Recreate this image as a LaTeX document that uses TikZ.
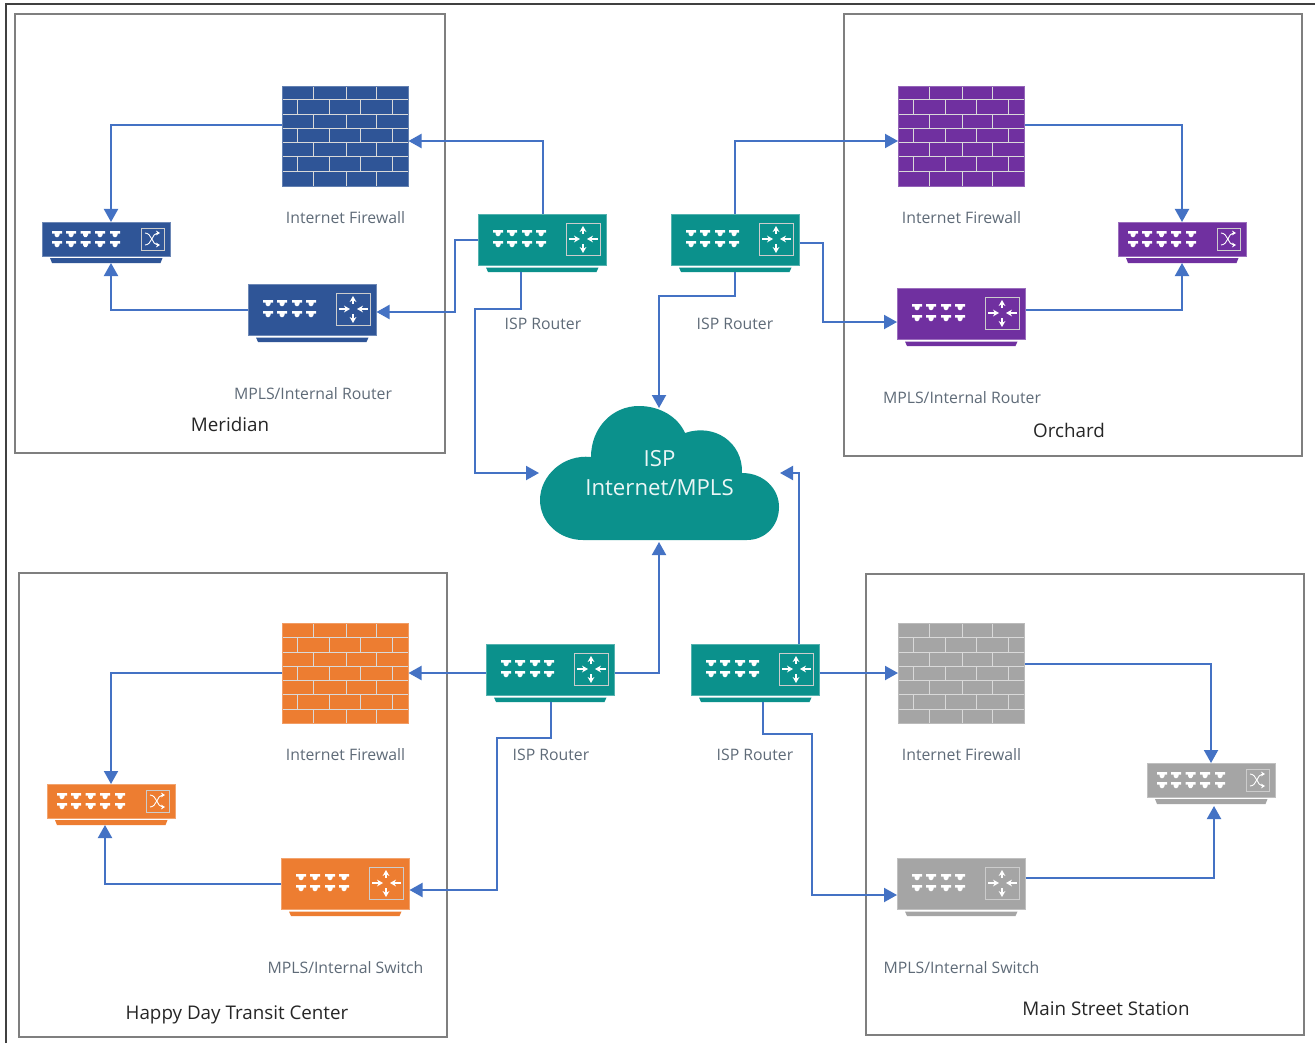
\documentclass[tikz,border=0pt]{standalone}
\usepackage{fontspec}
\setmainfont{Open Sans}
\usetikzlibrary{arrows.meta,calc}
\definecolor{cBlue}{HTML}{2F5597}
\definecolor{cPurple}{HTML}{7030A0}
\definecolor{cOrange}{HTML}{ED7D31}
\definecolor{cGray}{HTML}{A5A5A5}
\definecolor{cTeal}{HTML}{0B918C}
\definecolor{cLine}{HTML}{4472C4}
\definecolor{cFrame}{HTML}{7F7F7F}
\definecolor{cLabel}{HTML}{5F6B78}
\tikzset{
  conn/.style={draw=cLine,line width=1pt,-{Triangle[length=6.5pt,width=7pt]}},
  site/.style={draw=cFrame,line width=1pt,fill=white},
  devbox/.style={inner sep=0pt,outer sep=0pt,anchor=north west},
  lab/.style={text=cLabel,font=\fontsize{7.9}{9}\selectfont,inner sep=0pt},
  sitelab/.style={text=black!85,font=\fontsize{9.4}{11}\selectfont,inner sep=0pt},
  cloudlab/.style={text=white!92!cTeal,font=\fontsize{11.1}{14.5}\selectfont,align=center,inner sep=0pt,minimum width=119.5pt,minimum height=67pt},
  icon/.style={draw=white!80!black,line width=0.5pt},
  iconline/.style={draw=white,line width=0.45pt},
  iconarrow/.style={draw=white,line width=0.6pt,-{Stealth[length=3pt,width=3.4pt]}},
  brick/.style={draw=white!85!black,line width=0.5pt}
}
\newcommand{\portmark}[2]{\fill[white,shift={(#1,#2)}] (-5,-3)--(5,-3)--(5,-0.5)--(2.5,-0.5)--(2.5,1)--(1.2,3)--(-1.2,3)--(-2.5,1)--(-2.5,-0.5)--(-5,-0.5)--cycle;}
% name, x, y, colour
\newcommand{\routerdev}[4]{%
  \node[devbox,minimum width=64.25pt,minimum height=29pt] (#1) at (#2,#3) {};
  \begin{scope}[shift={(#2,#3)}]
    \fill[#4,draw=#4!70!white,line width=0.4pt] (0,0) rectangle (128.5,51);
    \fill[#4] (8,53.5)--(120.5,53.5)--(118.5,58)--(10,58)--cycle;
    \foreach \pa in {20,34,49,63}{\portmark{\pa}{19}\portmark{\pa}{30}}
    \draw[icon] (88,9) rectangle (122,41);
    \draw[iconarrow] (105,20)--(105,12);
    \draw[iconarrow] (105,30)--(105,39);
    \draw[iconarrow] (91,25)--(102,25);
    \draw[iconarrow] (120,25)--(109,25);
  \end{scope}}
\newcommand{\switchdev}[4]{%
  \node[devbox,minimum width=64.25pt,minimum height=20.5pt] (#1) at (#2,#3) {};
  \begin{scope}[shift={(#2,#3)}]
    \fill[#4,draw=#4!70!white,line width=0.4pt] (0,0) rectangle (128.5,34);
    \fill[#4] (8,36)--(120.5,36)--(118.5,41)--(10,41)--cycle;
    \foreach \pa in {15,29,43.5,58,73}{\portmark{\pa}{12}\portmark{\pa}{22}}
    \draw[icon] (99,6) rectangle (122,28);
    \draw[iconline,-{Stealth[length=2pt,width=2.4pt]}] (103,11) .. controls (110,11) and (110,23) .. (118,23);
    \draw[iconline,-{Stealth[length=2pt,width=2.4pt]}] (103,23) .. controls (110,23) and (110,11) .. (118,11);
  \end{scope}}
\newcommand{\firewalldev}[4]{%
  \node[devbox,minimum width=63.25pt,minimum height=50pt] (#1) at (#2,#3) {};
  \begin{scope}[shift={(#2,#3)}]
    \fill[#4] (0,0) rectangle (126.5,100);
    \foreach \ya in {14,29,43,57,71,86}{\draw[brick] (0,\ya)--(126.5,\ya);}
    \foreach \ya/\yb in {0/14,29/43,57/71,86/100}{\foreach \xa in {31,64,94}{\draw[brick] (\xa,\ya)--(\xa,\yb);}}
    \foreach \ya/\yb in {14/29,43/57,71/86}{\foreach \xa in {15,47.5,78,110.5}{\draw[brick] (\xa,\ya)--(\xa,\yb);}}
    \draw[brick,draw=#4!75!white,line width=0.4pt] (0,0) rectangle (126.5,100);
  \end{scope}}
\begin{document}
\begin{tikzpicture}[x=0.5pt,y=-0.5pt]
\useasboundingbox (0,0) rectangle (1315,1043);
\fill[white] (0,0) rectangle (1315,1043);
\draw[black!75,line width=0.6pt] (6,1043)--(6,4)--(1315,4);
% site frames
\draw[site] (15,14) rectangle (445,453);
\draw[site] (844,14) rectangle (1302,456);
\draw[site] (19,573) rectangle (447,1037);
\draw[site] (866,574) rectangle (1304,1035);
% devices
\firewalldev{fwM}{282}{86}{cBlue}
\firewalldev{fwO}{898}{86}{cPurple}
\firewalldev{fwH}{282}{623}{cOrange}
\firewalldev{fwS}{898}{623}{cGray}
\routerdev{ispM}{478}{214}{cTeal}
\routerdev{ispO}{671}{214}{cTeal}
\routerdev{ispH}{486}{644}{cTeal}
\routerdev{ispS}{691}{644}{cTeal}
\routerdev{rtM}{248}{284}{cBlue}
\routerdev{rtO}{897}{288}{cPurple}
\routerdev{rtH}{281}{858}{cOrange}
\routerdev{rtS}{897}{858}{cGray}
\switchdev{swM}{42}{222}{cBlue}
\switchdev{swO}{1118}{222}{cPurple}
\switchdev{swH}{47}{784}{cOrange}
\switchdev{swS}{1147}{763}{cGray}
% cloud
\fill[cTeal] (583,540)
  .. controls (559,540) and (540,522) .. (540,500)
  .. controls (540,476) and (563,454) .. (591,457)
  .. controls (591,428) and (612,406) .. (639,406)
  .. controls (660,406) and (678,417) .. (685,433)
  .. controls (714,423) and (743,442) .. (742,473)
  .. controls (764,473) and (779,489) .. (779,507)
  .. controls (779,526) and (765,540) .. (747,540)
  -- cycle;
\node[cloudlab] (cloud) at (659.5,473) {ISP\\Internet/MPLS};
% connectors
\draw[conn] (fwM.west |- 0,125) -| (111,0 |- swM.north);
\draw[conn] (rtM.west |- 0,310) -| (111,0 |- swM.south);
\draw[conn] (543,0 |- ispM.north) |- (fwM.east |- 0,141);
\draw[conn] (ispM.west |- 0,240) -- (455,240) -- (455,312) -- (rtM.east |- 0,312);
\draw[conn] (521,0 |- ispM.south) -- (521,309) -- (475,309) -- (475,473) -- (539,473);
\draw[conn] (735,0 |- ispO.north) |- (fwO.west |- 0,141);
\draw[conn] (ispO.east |- 0,243) -- (823,243) -- (823,322) -- (rtO.west |- 0,322);
\draw[conn] (735,0 |- ispO.south) -- (735,296) -- (659,296) -- (659,408);
\draw[conn] (fwO.east |- 0,125) -| (1182,0 |- swO.north);
\draw[conn] (rtO.east |- 0,310) -| (1182,0 |- swO.south);
\draw[conn] (ispH.west |- 0,673) -- (fwH.east |- 0,673);
\draw[conn] (ispH.east |- 0,673) -| (659,542);
\draw[conn] (551,0 |- ispH.south) -- (551,738) -- (497,738) -- (497,890) -- (rtH.east |- 0,890);
\draw[conn] (fwH.west |- 0,673) -| (111,0 |- swH.north);
\draw[conn] (rtH.west |- 0,884) -| (105,0 |- swH.south);
\draw[conn] (799,0 |- ispS.north) -- (799,473) -- (780,473);
\draw[conn] (ispS.east |- 0,673) -- (fwS.west |- 0,673);
\draw[conn] (763,0 |- ispS.south) -- (763,734) -- (812,734) -- (812,895) -- (rtS.west |- 0,895);
\draw[conn] (fwS.east |- 0,664) -| (1211,0 |- swS.north);
\draw[conn] (rtS.east |- 0,878) -| (1214,806);
% labels
\node[lab] (l1) at (345.5,218) {Internet Firewall};
\node[lab] (l2) at (961.5,218) {Internet Firewall};
\node[lab] (l3) at (345.5,755) {Internet Firewall};
\node[lab] (l4) at (961.5,755) {Internet Firewall};
\node[lab] (l5) at (543,324) {ISP Router};
\node[lab] (l6) at (735,324) {ISP Router};
\node[lab] (l7) at (551,755) {ISP Router};
\node[lab] (l8) at (755,755) {ISP Router};
\node[lab] (l9) at (313,394) {MPLS/Internal Router};
\node[lab] (l10) at (962,398) {MPLS/Internal Router};
\node[lab] (l11) at (345.5,968) {MPLS/Internal Switch};
\node[lab] (l12) at (961.5,968) {MPLS/Internal Switch};
\node[sitelab] (s1) at (230,424) {Meridian};
\node[sitelab] (s2) at (1069,430) {Orchard};
\node[sitelab] (s3) at (237,1015) {Happy Day Transit Center};
\node[sitelab] (s4) at (1106,1009) {Main Street Station};
\end{tikzpicture}
\end{document}
